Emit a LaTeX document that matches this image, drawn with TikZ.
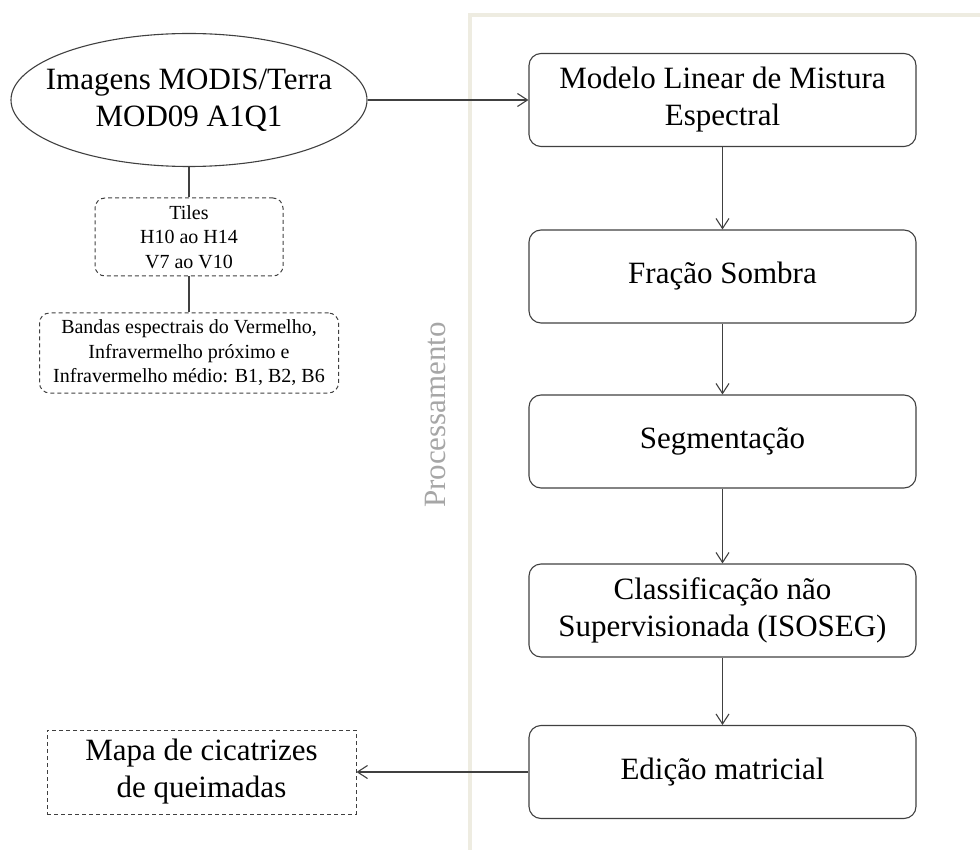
\documentclass[tikz,border=0pt]{standalone}
\usepackage{fontspec}
\setmainfont{Liberation Serif}
\usetikzlibrary{arrows.meta,shapes.geometric}

\begin{document}
\begin{tikzpicture}[x=1pt,y=-1pt,>={Straight Barb[length=10pt,width=13pt]},
  font=\fontsize{31}{37}\selectfont,
  stepbox/.style={draw=black!75,line width=1.1pt,rounded corners=12pt,minimum width=387pt,minimum height=93pt,inner sep=0pt,align=center},
  tilebox/.style={draw=black!75,line width=1pt,dash pattern=on 4pt off 3pt,rounded corners=10pt,inner sep=0pt,align=center,font=\fontsize{20}{24.5}\selectfont},
  link/.style={draw=black!75,line width=1.1pt}]
\definecolor{framebeige}{RGB}{238,236,225}
\definecolor{labelgray}{RGB}{166,166,166}
\useasboundingbox (0,0) rectangle (980,850);
% processing frame
\draw[framebeige,line width=4pt] (470,855) -- (470,15) -- (985,15);
\node[rotate=90,text=labelgray] (proc) at (435,415) {Processamento};
% input side
\node[ellipse,draw=black!75,line width=1.1pt,minimum width=356pt,minimum height=133pt,inner xsep=-18pt,inner ysep=0pt,align=center] (modis) at (189,100) {Imagens MODIS/Terra\\MOD09 A1Q1};
\node[tilebox,minimum width=188pt,minimum height=78pt] (tiles) at (189,237) {Tiles\\H10 ao H14\\V7 ao V10};
\node[tilebox,minimum width=299pt,minimum height=80pt] (bandas) at (189,353) {Bandas espectrais do Vermelho,\\Infravermelho próximo e\\Infravermelho médio: B1, B2, B6};
\node[draw=black!75,line width=1pt,dash pattern=on 4pt off 3pt,minimum width=309pt,minimum height=84pt,inner sep=0pt,align=center] (mapa) at (201.5,772) {Mapa de cicatrizes\\de queimadas};
% processing steps
\node[stepbox] (mlme) at (722.5,100) {Modelo Linear de Mistura\\Espectral};
\node[stepbox] (sombra) at (722.5,276.5) {Fração Sombra};
\node[stepbox] (segm) at (722.5,441.5) {Segmentação};
\node[stepbox] (isoseg) at (722.5,610.5) {Classificação não\\Supervisionada (ISOSEG)};
\node[stepbox] (edicao) at (722.5,772) {Edição matricial};
\draw[link] (modis.south) -- (tiles.north);
\draw[link] (tiles.south) -- (bandas.north);
\draw[link,->] (modis.east) -- (mlme.west);
\draw[link,->] (mlme.south) -- (sombra.north);
\draw[link,->] (sombra.south) -- (segm.north);
\draw[link,->] (segm.south) -- (isoseg.north);
\draw[link,->] (isoseg.south) -- (edicao.north);
\draw[link,->] (edicao.west) -- (mapa.east);
\end{tikzpicture}
\end{document}
